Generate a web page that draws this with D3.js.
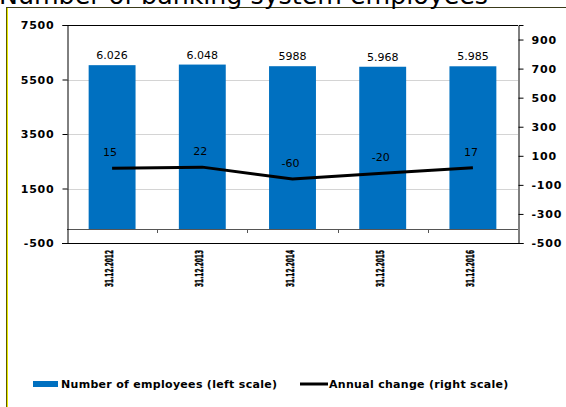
<!DOCTYPE html>
<html>
<head>
<meta charset="utf-8">
<script src="https://cdn.jsdelivr.net/npm/d3@7/dist/d3.min.js"></script>
<style>
  html, body { margin: 0; padding: 0; background: #fff; }
  svg { display: block; }
  text { font-family: "DejaVu Sans", Verdana, sans-serif; fill: #000; }
</style>
</head>
<body>
<svg id="chart" width="566" height="407"></svg>
<script>
// Banking system headcount at year end, with the annual change
const categories = ["31.12.2012", "31.12.2013", "31.12.2014", "31.12.2015", "31.12.2016"];
const employees = [6026, 6048, 5988, 5968, 5985];
const employeeLabels = ["6.026", "6.048", "5988", "5.968", "5.985"];
const annualChange = [15, 22, -60, -20, 17];
const leftTicks = [-500, 1500, 3500, 5500, 7500];
const rightTicks = [-500, -300, -100, 100, 300, 500, 700, 900];
const titleText = "Number of banking system employees";
const legendItems = ["Number of employees (left scale)", "Annual change (right scale)"];

const svg = d3.select("#chart");
const plot = { left: 67, right: 518, top: 25, bottom: 243 };
const blue = "#0070C0";

// Frame around the slide area
svg.append("line").attr("x1", 6).attr("x2", 566).attr("y1", 7.5).attr("y2", 7.5)
  .attr("stroke", "#3a3a1a").attr("stroke-width", 1);
svg.append("line").attr("x1", 6.5).attr("x2", 6.5).attr("y1", 7.5).attr("y2", 407)
  .attr("stroke", "#5a5a00").attr("stroke-width", 1);
svg.append("line").attr("x1", 7.5).attr("x2", 7.5).attr("y1", 8).attr("y2", 407)
  .attr("stroke", "#e8e800").attr("stroke-width", 1);

// Title (partly above the visible area)
svg.append("text").attr("x", -1).attr("y", 4)
  .attr("font-size", 25).attr("textLength", 489).attr("lengthAdjust", "spacingAndGlyphs")
  .text(titleText);

const x = d3.scaleBand().domain(categories).range([plot.left, plot.right])
  .paddingInner(0.48).paddingOuter(0.24);
const yL = d3.scaleLinear().domain([-500, 7500]).range([plot.bottom, plot.top]);
const yR = d3.scaleLinear().domain([-500, 1000]).range([plot.bottom, plot.top]);

// Gridlines
svg.append("g").selectAll("line").data(leftTicks.filter(t => t > -500 && t < 7500)).join("line")
  .attr("x1", plot.left).attr("x2", plot.right)
  .attr("y1", d => Math.round(yL(d)) + 0.5).attr("y2", d => Math.round(yL(d)) + 0.5)
  .attr("stroke", "#d4d4d4").attr("stroke-width", 1);

// Bars
svg.append("g").selectAll("rect").data(employees).join("rect")
  .attr("x", (d, i) => x(categories[i]))
  .attr("width", x.bandwidth())
  .attr("y", d => yL(d))
  .attr("height", d => yL(0) - yL(d))
  .attr("fill", blue);

// Bar value labels
svg.append("g").selectAll("text").data(employees).join("text")
  .attr("x", (d, i) => x(categories[i]) + x.bandwidth() / 2)
  .attr("y", d => yL(d) - 6)
  .attr("text-anchor", "middle").attr("font-size", 11)
  .text((d, i) => employeeLabels[i]);

// Zero line with category ticks
svg.append("line").attr("x1", plot.left).attr("x2", plot.right)
  .attr("y1", Math.round(yL(0)) + 0.5).attr("y2", Math.round(yL(0)) + 0.5)
  .attr("stroke", "#555").attr("stroke-width", 1);
const bounds = categories.slice(1).map(c => x(c) - x.step() * x.paddingInner() / 2);
svg.append("g").selectAll("line").data(bounds).join("line")
  .attr("x1", d => Math.round(d) + 0.5).attr("x2", d => Math.round(d) + 0.5)
  .attr("y1", Math.round(yL(0)) + 0.5).attr("y2", Math.round(yL(0)) + 4)
  .attr("stroke", "#555");

// Top border
svg.append("line").attr("x1", plot.left).attr("x2", plot.right)
  .attr("y1", plot.top + 0.5).attr("y2", plot.top + 0.5).attr("stroke", "#000");

// Left axis
const gL = svg.append("g").attr("transform", `translate(${plot.left + 0.5},0)`)
  .call(d3.axisLeft(yL).tickValues(leftTicks).tickSize(5).tickPadding(9).tickFormat(d => String(d)));
// Right axis
const gR = svg.append("g").attr("transform", `translate(${plot.right + 0.5},0)`)
  .call(d3.axisRight(yR).tickValues(rightTicks).tickSize(5).tickPadding(8).tickFormat(d => String(d)));
[gL, gR].forEach(g => {
  g.select(".domain").attr("stroke", "#000");
  g.selectAll(".tick line").attr("stroke", "#000");
  g.selectAll(".tick text").attr("font-family", "'DejaVu Sans', Verdana, sans-serif")
    .attr("font-weight", "bold").attr("font-size", 11).attr("letter-spacing", 0.8).attr("fill", "#000");
});
gL.selectAll(".tick text").attr("dx", 1);

// Bottom border extends across both tick sides
svg.append("line").attr("x1", plot.left - 5).attr("x2", plot.right + 5)
  .attr("y1", plot.bottom + 0.5).attr("y2", plot.bottom + 0.5).attr("stroke", "#000");

// Category labels, rotated and condensed
svg.append("g").selectAll("text").data(categories).join("text")
  .attr("transform", d => `translate(${x(d) + x.bandwidth() / 2 + 1},250) rotate(-90)`)
  .attr("text-anchor", "end")
  .attr("font-family", "'DejaVu Sans', sans-serif")
  .attr("font-weight", "bold").attr("font-size", 11)
  .attr("stroke", "#000").attr("stroke-width", 0.5)
  .attr("textLength", 37).attr("lengthAdjust", "spacingAndGlyphs")
  .text(d => d);

// Annual change line
const line = d3.line()
  .x((d, i) => x(categories[i]) + x.bandwidth() / 2)
  .y(d => yR(d));
svg.append("path").datum(annualChange).attr("d", line)
  .attr("fill", "none").attr("stroke", "#000").attr("stroke-width", 3);

svg.append("g").selectAll("text").data(annualChange).join("text")
  .attr("x", (d, i) => x(categories[i]) + x.bandwidth() / 2 - 2)
  .attr("y", d => yR(d) - 12)
  .attr("text-anchor", "middle").attr("font-size", 11)
  .text(d => String(d));

// Legend
const lg = svg.append("g");
lg.append("rect").attr("x", 33).attr("y", 381).attr("width", 25).attr("height", 6).attr("fill", blue);
lg.append("text").attr("x", 61).attr("y", 388).attr("font-weight", "bold").attr("font-size", 11)
  .attr("letter-spacing", 0.3).text(legendItems[0]);
lg.append("line").attr("x1", 300).attr("x2", 328).attr("y1", 384).attr("y2", 384)
  .attr("stroke", "#000").attr("stroke-width", 3);
lg.append("text").attr("x", 329).attr("y", 388).attr("font-weight", "bold").attr("font-size", 11)
  .attr("letter-spacing", 0.3).text(legendItems[1]);
</script>
</body>
</html>
